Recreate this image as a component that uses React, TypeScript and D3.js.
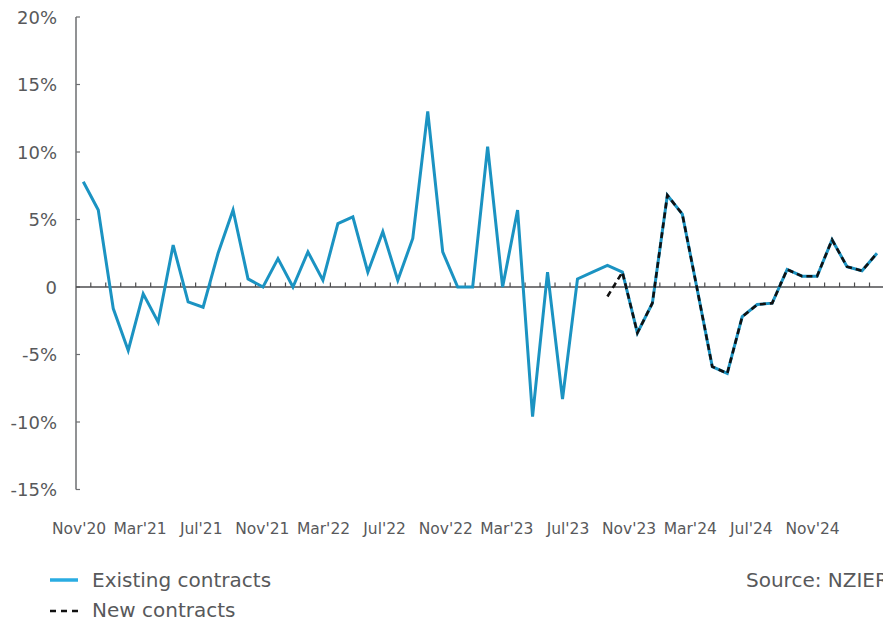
import React from "react";
import * as d3 from "d3";

const months: string[] = [
  "Nov'20","Dec'20","Jan'21","Feb'21","Mar'21","Apr'21","May'21","Jun'21","Jul'21","Aug'21","Sep'21","Oct'21",
  "Nov'21","Dec'21","Jan'22","Feb'22","Mar'22","Apr'22","May'22","Jun'22","Jul'22","Aug'22","Sep'22","Oct'22",
  "Nov'22","Dec'22","Jan'23","Feb'23","Mar'23","Apr'23","May'23","Jun'23","Jul'23","Aug'23","Sep'23","Oct'23",
  "Nov'23","Dec'23","Jan'24","Feb'24","Mar'24","Apr'24","May'24","Jun'24","Jul'24","Aug'24","Sep'24","Oct'24",
  "Nov'24","Dec'24","Jan'25","Feb'25","Mar'25","Apr'25",
];

const existingContracts: number[] = [
  7.8, 5.7, -1.6, -4.7, -0.5, -2.6, 3.1, -1.1, -1.5, 2.5,
  5.7, 0.6, 0.0, 2.1, 0.0, 2.6, 0.5, 4.7, 5.2, 1.1,
  4.1, 0.5, 3.6, 13.0, 2.6, 0.0, 0.0, 10.4, 0.0, 5.7,
  -9.6, 1.1, -8.3, 0.6, 1.1, 1.6, 1.1, -3.4, -1.2, 6.8,
  5.4, -0.2, -5.9, -6.4, -2.2, -1.3, -1.2, 1.3, 0.8, 0.8,
  3.5, 1.5, 1.2, 2.5,
];

const newContracts: (number | null)[] = [
  null, null, null, null, null, null, null, null, null, null,
  null, null, null, null, null, null, null, null, null, null,
  null, null, null, null, null, null, null, null, null, null,
  null, null, null, null, null, -0.7, 1.1, -3.4, -1.2, 6.8,
  5.4, -0.2, -5.9, -6.4, -2.2, -1.3, -1.2, 1.3, 0.8, 0.8,
  3.5, 1.5, 1.2, 2.5,
];

const xTickLabels: string[] = [
  "Nov'20","Mar'21","Jul'21","Nov'21","Mar'22","Jul'22","Nov'22",
  "Mar'23","Jul'23","Nov'23","Mar'24","Jul'24","Nov'24",
];

const yTicks: number[] = [20, 15, 10, 5, 0, -5, -10, -15];

const W = 883;
const H = 621;
const FONT = "'DejaVu Sans', 'Open Sans', sans-serif";
const TEXT = "#58595b";
const BLUE = "#1b93c2";
const LEGEND_BLUE = "#2aace2";

export default function App() {
  const x = d3.scaleLinear().domain([0, months.length - 1]).range([83.3, 877]);
  const y = d3.scaleLinear().domain([-15, 20]).range([489.5, 17]);
  const xl = d3.scalePoint<string>().domain(xTickLabels).range([79, 812.5]);

  const lineExisting = d3
    .line<number>()
    .x((_, i) => x(i))
    .y((d) => y(d));

  const newPts = newContracts
    .map((v, i) => ({ v, i }))
    .filter((d) => d.v !== null) as { v: number; i: number }[];
  const lineNew = d3
    .line<{ v: number; i: number }>()
    .x((d) => x(d.i))
    .y((d) => y(d.v));

  const axisX = 76;
  const zeroY = y(0);
  const monthTicks = d3.range(0, months.length - 1).map((i) => i + 0.5);

  return (
    <svg
      width={W}
      height={H}
      style={{ position: "absolute", left: 0, top: 0, background: "#fff" }}
      fontFamily={FONT}
    >
      {/* Y axis */}
      <line x1={axisX} x2={axisX} y1={y(20)} y2={y(-15)} stroke="#6d6e71" strokeWidth={1.5} />
      {yTicks.map((t) => (
        <g key={t}>
          <line x1={axisX} x2={axisX + 4} y1={y(t)} y2={y(t)} stroke="#6d6e71" strokeWidth={1.2} />
          <text
            x={57}
            y={y(t)}
            textAnchor="end"
            dominantBaseline="central"
            fontSize={18}
            fill={TEXT}
          >
            {t === 0 ? "0" : `${t}%`}
          </text>
        </g>
      ))}

      {/* zero line with month ticks */}
      <line x1={axisX} x2={W} y1={zeroY} y2={zeroY} stroke="#4d4d4f" strokeWidth={1.5} />
      {monthTicks.map((t) => (
        <line key={t} x1={x(t)} x2={x(t)} y1={zeroY} y2={zeroY - 4.5} stroke="#4d4d4f" strokeWidth={1.2} />
      ))}

      {/* Series */}
      <path d={lineExisting(existingContracts) || ""} fill="none" stroke={BLUE} strokeWidth={3} strokeLinejoin="miter" />
      <path
        d={lineNew(newPts) || ""}
        fill="none"
        stroke="#111"
        strokeWidth={2.6}
        strokeDasharray="6 4"
      />

      {/* X labels */}
      {xTickLabels.map((l) => (
        <text key={l} x={xl(l)} y={529} textAnchor="middle" dominantBaseline="central" fontSize={15.5} fill={TEXT}>
          {l}
        </text>
      ))}

      {/* Legend */}
      <line x1={50} x2={78} y1={580} y2={580} stroke={LEGEND_BLUE} strokeWidth={3.5} />
      <text x={92} y={580} dominantBaseline="central" fontSize={20} fill={TEXT}>
        Existing contracts
      </text>
      <line x1={50} x2={78} y1={611} y2={611} stroke="#111" strokeWidth={2.5} strokeDasharray="6 5" />
      <text x={92} y={610} dominantBaseline="central" fontSize={20} fill={TEXT}>
        New contracts
      </text>
      <text x={746} y={580} dominantBaseline="central" fontSize={20} fill={TEXT}>
        Source: NZIER
      </text>
    </svg>
  );
}
